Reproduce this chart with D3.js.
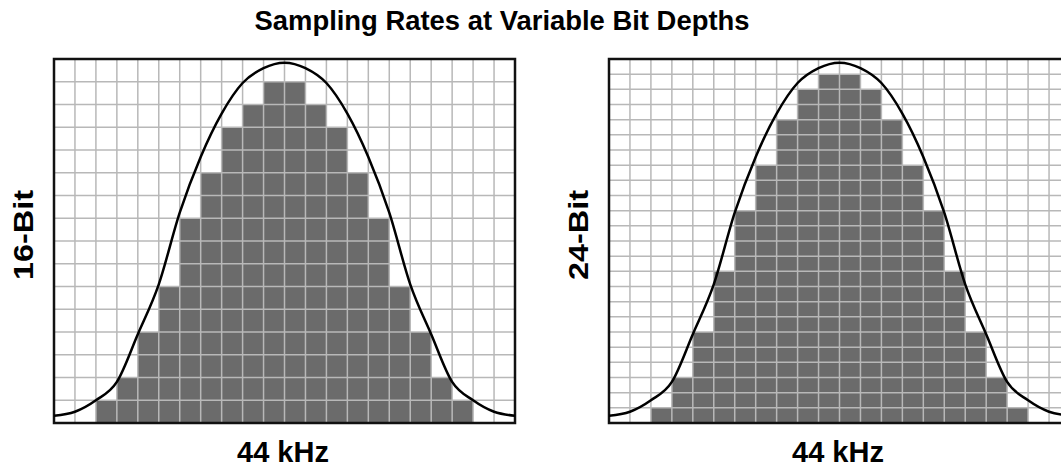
<!DOCTYPE html>
<html>
<head>
<meta charset="utf-8">
<script src="https://cdn.jsdelivr.net/npm/d3@7"></script>
<style>
  body { margin: 0; background: #fff; }
  text { font-family: "Liberation Sans", Arial, sans-serif; font-weight: bold; fill: #000; }
</style>
</head>
<body>
<svg width="1061" height="468"></svg>
<script>
// column positions (22 columns per panel)
const columns = d3.range(22);

// filled cell counts per column
const bars16 = [0, 0, 1, 2, 4, 6, 9, 11, 13, 14, 15, 15, 14, 13, 11, 9, 6, 4, 2, 1, 0, 0];
const bars24 = [0, 0, 1, 3, 6, 10, 14, 17, 20, 22, 23, 23, 22, 20, 17, 14, 10, 6, 3, 1, 0, 0];

// analog wave, as a share of panel height, sampled at column edges 0..22
const waveX = d3.range(23);
const waveY = [0.02, 0.031, 0.0625, 0.113, 0.244, 0.381, 0.578, 0.731, 0.85, 0.934, 0.975, 0.99,
  0.975, 0.934, 0.85, 0.731, 0.578, 0.381, 0.244, 0.113, 0.0625, 0.031, 0.02];

const panels = [
  { label: '16-Bit', xLabel: '44 kHz', rows: 16, bars: bars16, left: 54 },
  { label: '24-Bit', xLabel: '44 kHz', rows: 24, bars: bars24, left: 609 },
];

const svg = d3.select('svg'),
  plotTop = 59,
  panelW = 461,
  panelH = 364;

svg
  .append('text')
  .attr('x', 502)
  .attr('y', 30)
  .attr('text-anchor', 'middle')
  .attr('font-size', '27px')
  .attr('textLength', 495)
  .attr('lengthAdjust', 'spacingAndGlyphs')
  .text('Sampling Rates at Variable Bit Depths');

panels.forEach((p) => {
  const x = d3.scaleLinear().domain([0, 22]).range([p.left, p.left + panelW]);
  const y = d3.scaleLinear().domain([0, p.rows]).range([plotTop + panelH, plotTop]);
  const yWave = d3.scaleLinear().domain([0, 1]).range([plotTop + panelH, plotTop]);

  const g = svg.append('g');

  // sampled values
  g.selectAll('.bar')
    .data(columns)
    .enter()
    .append('rect')
    .attr('class', 'bar')
    .attr('x', (d) => x(d))
    .attr('y', (d) => y(p.bars[d]))
    .attr('width', x(1) - x(0))
    .attr('height', (d) => y(0) - y(p.bars[d]))
    .attr('fill', '#6b6b6b');

  // grid
  g.selectAll('.vline')
    .data(d3.range(1, 22))
    .enter()
    .append('line')
    .attr('x1', (d) => x(d))
    .attr('x2', (d) => x(d))
    .attr('y1', y(0))
    .attr('y2', y(p.rows))
    .attr('stroke', '#b8b8b8')
    .attr('stroke-width', 1.5);

  g.selectAll('.hline')
    .data(d3.range(1, p.rows))
    .enter()
    .append('line')
    .attr('x1', x(0))
    .attr('x2', x(22))
    .attr('y1', (d) => y(d))
    .attr('y2', (d) => y(d))
    .attr('stroke', '#b8b8b8')
    .attr('stroke-width', 1.5);

  // frame
  g.append('rect')
    .attr('x', x(0))
    .attr('y', y(p.rows))
    .attr('width', x(22) - x(0))
    .attr('height', y(0) - y(p.rows))
    .attr('fill', 'none')
    .attr('stroke', '#111')
    .attr('stroke-width', 2.5);

  // analog wave
  const line = d3
    .line()
    .x((d, i) => x(waveX[i]))
    .y((d) => yWave(d))
    .curve(d3.curveMonotoneX);

  g.append('path')
    .attr('d', line(waveY))
    .attr('fill', 'none')
    .attr('stroke', '#000')
    .attr('stroke-width', 2.5);

  svg
    .append('text')
    .attr('transform', `translate(${p.left - 21}, ${plotTop + panelH / 2 - 6}) rotate(-90)`)
    .attr('text-anchor', 'middle')
    .attr('font-size', '27px')
    .attr('textLength', 90)
    .attr('lengthAdjust', 'spacingAndGlyphs')
    .text(p.label);

  svg
    .append('text')
    .attr('x', p.left + 229)
    .attr('y', 462)
    .attr('text-anchor', 'middle')
    .attr('font-size', '29px')
    .text(p.xLabel);
});
</script>
</body>
</html>
